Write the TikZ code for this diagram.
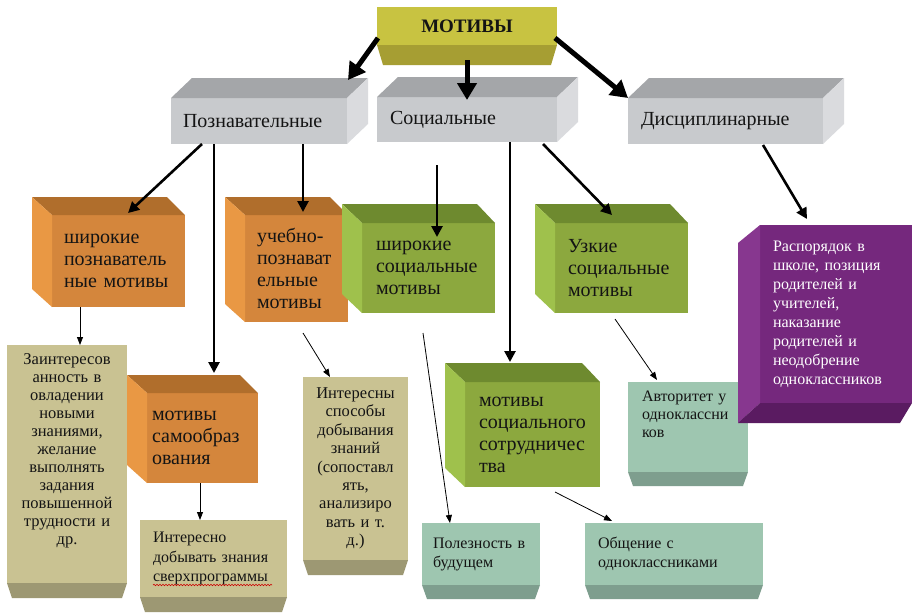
\documentclass[tikz,border=0pt]{standalone}
\usepackage{fontspec}
\setmainfont{Liberation Serif}
\usetikzlibrary{positioning, arrows.meta, calc, decorations.pathmorphing}
\definecolor{motivyel}{HTML}{C8C341}
\definecolor{motivyeldark}{HTML}{A69E33}
\definecolor{grayfront}{HTML}{C8CACD}
\definecolor{graytop}{HTML}{A4A6A9}
\definecolor{grayside}{HTML}{DADBDE}
\definecolor{orfront}{HTML}{D4863C}
\definecolor{ortop}{HTML}{B06E2C}
\definecolor{orside}{HTML}{E99844}
\definecolor{grfront}{HTML}{8CA83E}
\definecolor{grtop}{HTML}{6E8A2F}
\definecolor{grside}{HTML}{9FC14C}
\definecolor{khfront}{HTML}{C9C292}
\definecolor{khbevel}{HTML}{9D9873}
\definecolor{tlfront}{HTML}{9EC6B0}
\definecolor{tlbevel}{HTML}{7E9E8E}
\definecolor{prfront}{HTML}{75287D}
\definecolor{prside}{HTML}{87378F}
\definecolor{prbottom}{HTML}{5A1B61}

\tikzset{
  face/.style={anchor=north west, outer sep=0pt, inner ysep=2pt, inner xsep=12pt, align=left, text=black!92},
  motivbox/.style={face, fill=motivyel, align=center, font=\bfseries\fontsize{19}{22}\selectfont},
  graybox/.style={face, fill=grayfront, font=\fontsize{20}{22}\selectfont},
  orbox/.style={face, fill=orfront, font=\fontsize{20}{22}\selectfont},
  grbox/.style={face, fill=grfront, font=\fontsize{20}{22}\selectfont},
  khbox/.style={face, fill=khfront, align=center, inner xsep=4pt, font=\fontsize{16.5}{18}\selectfont},
  tlbox/.style={face, fill=tlfront, font=\fontsize{16}{19}\selectfont},
  prbox/.style={face, fill=prfront, text=white, inner xsep=13pt, font=\fontsize{16}{19}\selectfont},
  bigarrow/.style={line width=5pt, -{Triangle[length=17pt,width=19pt]}},
  midarrow/.style={line width=2.6pt, -{Triangle[length=11pt,width=11pt]}},
  thinarrow/.style={line width=0.8pt, -{Triangle[length=8pt,width=6pt]}}
}

\begin{document}
\begin{tikzpicture}[x=1pt, y=-1pt]
      \fill[white] (0,0) rectangle (912,614);
      \useasboundingbox (0,0) rectangle (912,614);

      \node[motivbox, text width=156pt, minimum height=38pt] (motivy) at (377,7) {МОТИВЫ};
      \fill[motivyeldark] (motivy.south west) -- (motivy.south east) -- ++(-6,20) -- ([shift={(6,20)}]motivy.south west) -- cycle;

      \node[graybox, text width=152pt, minimum height=46pt] (pozn) at (171,98) {Познавательные};
      \node[graybox, inner xsep=13pt, text width=154pt, minimum height=45pt] (soc) at (377,97) {Социальные};
      \node[graybox, inner xsep=13pt, text width=169pt, minimum height=46pt] (disc) at (628,98) {Дисциплинарные};
      \foreach \n in {pozn,soc,disc}{
        \fill[graytop] (\n.north west) -- ++(21,-20) -- ([shift={(21,-20)}]\n.north east) -- (\n.north east) -- cycle;
        \fill[grayside] (\n.north east) -- ++(21,-20) -- ([shift={(21,-20)}]\n.south east) -- (\n.south east) -- cycle;
      }

      \node[orbox, text width=109pt, minimum height=92pt] (shpozn) at (52,215) {широкие\\познаватель\\ные мотивы};
      \node[orbox, text width=79pt, minimum height=107pt] (uchpozn) at (245,215) {учебно-\\познават\\ельные\\мотивы};
      \node[orbox, inner xsep=5pt, text width=101pt, minimum height=90pt] (samoobr) at (147,393) {мотивы\\самообраз\\ования};
      \foreach \n in {shpozn,uchpozn,samoobr}{
        \fill[ortop] (\n.north west) -- ++(-20,-18) -- ([shift={(-18,-18)}]\n.north east) -- (\n.north east) -- cycle;
        \fill[orside] (\n.north west) -- ++(-20,-18) -- ([shift={(-20,-18)}]\n.south west) -- (\n.south west) -- cycle;
      }

      \node[grbox, inner xsep=14pt, text width=105pt, minimum height=90pt] (shsoc) at (362,223) {широкие\\социальные\\мотивы};
      \node[grbox, inner xsep=13pt, text width=107pt, minimum height=90pt] (uzsoc) at (555,223) {Узкие\\социальные\\мотивы};
      \node[grbox, inner xsep=14pt, text width=107pt, minimum height=105pt] (sotrud) at (465,382) {мотивы\\социального\\сотрудничес\\тва};
      \foreach \n in {shsoc,uzsoc,sotrud}{
        \fill[grtop] (\n.north west) -- ++(-20,-19) -- ([shift={(-18,-19)}]\n.north east) -- (\n.north east) -- cycle;
        \fill[grside] (\n.north west) -- ++(-20,-19) -- ([shift={(-20,-19)}]\n.south west) -- (\n.south west) -- cycle;
      }

      \node[khbox, text width=112pt, minimum height=238pt, inner ysep=7pt, text depth=210pt] (zainter) at (7,345) {Заинтересов\\анность в\\овладении\\новыми\\знаниями,\\желание\\выполнять\\задания\\повышенной\\трудности и\\др.};
      \node[khbox, text width=97pt, minimum height=183pt, font=\fontsize{16.5}{18.4}\selectfont] (intny) at (303,377) {Интересны\\способы\\добывания\\знаний\\(сопоставл\\ять,\\анализиро\\вать и т.\\д.)};
      \node[khbox, align=left, inner xsep=13pt, text width=121pt, minimum height=77pt, font=\fontsize{16}{19.5}\selectfont] (intno) at (140,520) {Интересно\\добывать знания\\сверхпрограммы};
      \foreach \n in {zainter,intny,intno}{
        \fill[khbevel] (\n.south west) -- (\n.south east) -- ++(-5,15) -- ([shift={(5,15)}]\n.south west) -- cycle;
      }
      \draw[red!80!black, line width=0.6pt, decorate, decoration={snake, amplitude=0.7pt, segment length=3pt}] ([shift={(13,65)}]intno.north west) -- ([shift={(132,65)}]intno.north west);

      \node[tlbox, inner xsep=14pt, inner ysep=8pt, text width=92pt, minimum height=90pt, text depth=62pt, font=\fontsize{16}{18}\selectfont] (avtor) at (628,382) {Авторитет у\\одноклассни\\ков};
      \node[tlbox, inner xsep=11pt, text width=96pt, minimum height=62pt] (polezn) at (422,523) {Полезность в\\будущем};
      \node[tlbox, inner xsep=13pt, text width=152pt, minimum height=62pt] (obsch) at (585,523) {Общение с\\одноклассниками};
      \foreach \n in {avtor,polezn,obsch}{
        \fill[tlbevel] (\n.south west) -- (\n.south east) -- ++(-5,14) -- ([shift={(5,14)}]\n.south west) -- cycle;
      }

      \node[prbox, text width=126pt, minimum height=178pt] (raspor) at (760,225) {Распорядок в\\школе, позиция\\родителей и\\учителей,\\наказание\\родителей и\\неодобрение\\одноклассников};
      \fill[prside] (raspor.north west) -- ++(-22,18) -- ([shift={(-22,20)}]raspor.south west) -- (raspor.south west) -- cycle;
      \fill[prbottom] (raspor.south west) -- ([shift={(-22,20)}]raspor.south west) -- ([shift={(-12,20)}]raspor.south east) -- (raspor.south east) -- cycle;

      \draw[bigarrow] ([shift={(1,12)}]motivy.west) -- ([shift={(1,-18)}]pozn.north east);
      \draw[bigarrow] ([shift={(0,15)}]motivy.south) -- ([shift={(0,3)}]soc.north);
      \draw[bigarrow] ([shift={(-2,12)}]motivy.east) -- (disc.north west);

      \draw[midarrow] ([shift={(31,0)}]pozn.south west) -- ([shift={(76,-2)}]shpozn.north west);
      \draw[midarrow] ([shift={(43,0)}]pozn.south west) -- ([shift={(67,-20)}]samoobr.north west);
      \draw[midarrow] ([shift={(132,0)}]pozn.south west) -- ([shift={(58,-3)}]uchpozn.north west);
      \draw[midarrow] ([shift={(133,0)}]soc.south west) -- ([shift={(45,-20)}]sotrud.north west);
      \draw[midarrow] ([shift={(60,23)}]soc.south west) -- ([shift={(75,14)}]shsoc.north west);
      \draw[midarrow] ([shift={(166,2)}]soc.south west) -- ([shift={(57,-8)}]uzsoc.north west);
      \draw[midarrow] ([shift={(135,1)}]disc.south west) -- ([shift={(47,-6)}]raspor.north west);

      \draw[thinarrow] ([shift={(28,0)}]shpozn.south west) -- ([shift={(73,0)}]zainter.north west);
      \draw[thinarrow] ([shift={(53,0)}]samoobr.south west) -- ([shift={(60,0)}]intno.north west);
      \draw[thinarrow] ([shift={(58,11)}]uchpozn.south west) -- ([shift={(27,0)}]intny.north west);
      \draw[thinarrow] ([shift={(61,20)}]shsoc.south west) -- ([shift={(28,0)}]polezn.north west);
      \draw[thinarrow] ([shift={(90,5)}]sotrud.south west) -- ([shift={(27,-2)}]obsch.north west);
      \draw[thinarrow] ([shift={(60,6)}]uzsoc.south west) -- ([shift={(29,-2)}]avtor.north west);
\end{tikzpicture}
\end{document}
